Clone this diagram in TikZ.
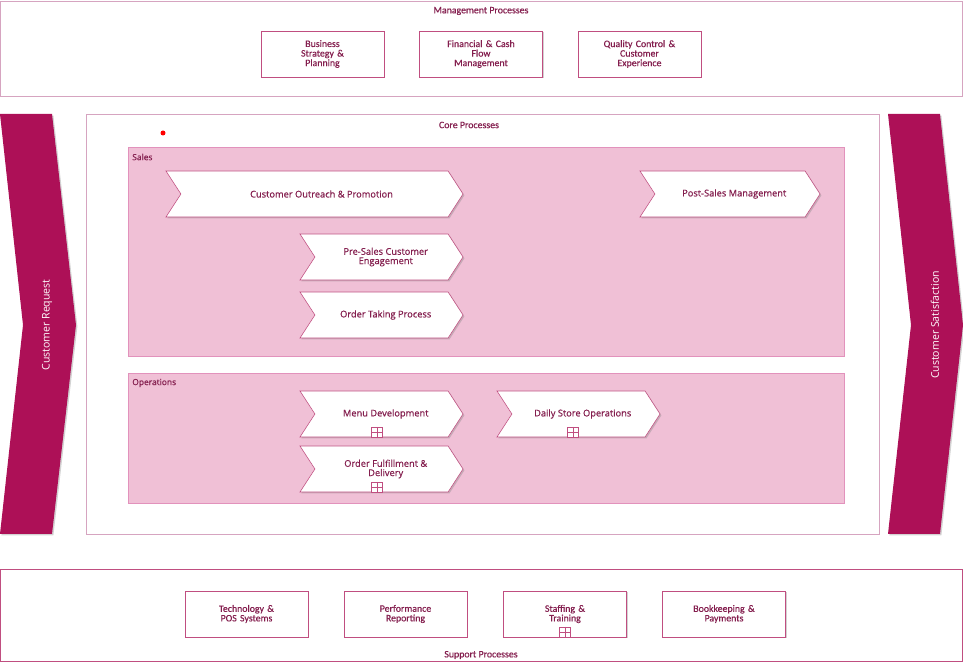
\documentclass[tikz,border=0pt]{standalone}
\usepackage{fontspec}
\setmainfont{Carlito}[FakeBold=0.4]
\newfontfamily\chevfont{Open Sans}[FakeBold=0.6]
\newfontfamily\sidefont{Open Sans}
\usepackage{tikz}
\usetikzlibrary{shapes.symbols,shadows}
\definecolor{darkmag}{RGB}{173,16,87}
\definecolor{lanefill}{RGB}{240,192,214}
\definecolor{laneline}{RGB}{226,146,188}
\definecolor{frameline}{RGB}{214,164,192}
\definecolor{boxline}{RGB}{192,78,128}
\definecolor{textmag}{RGB}{132,30,78}

\begin{document}
\begin{tikzpicture}[x=0.025cm, y=-0.025cm,
  procbox/.style={rectangle, draw=boxline, fill=white, minimum width=3.075cm, minimum height=1.15cm,
    text width=2.2cm, align=center, text=textmag, inner sep=0pt,
    font=\fontsize{7}{6.8}\selectfont,
    drop shadow={shadow xshift=1pt, shadow yshift=-1pt, opacity=0.35}},
  chev/.style={signal, signal to=east, signal from=west, signal pointer angle=114,
    draw=boxline, fill=white, minimum height=1.15cm, inner sep=0pt, align=center, text=textmag,
    font=\chevfont\fontsize{6.6}{6.6}\selectfont,
    drop shadow={shadow xshift=1pt, shadow yshift=-1pt, opacity=0.35}},
  plusbox/.style={rectangle, draw=boxline, fill=white, minimum width=0.28cm, minimum height=0.25cm, inner sep=0pt,
    path picture={\draw[boxline] (path picture bounding box.north) -- (path picture bounding box.south)
      (path picture bounding box.west) -- (path picture bounding box.east);}},
  lane/.style={rectangle, draw=laneline, fill=lanefill, anchor=north west, inner sep=0pt},
  frame/.style={rectangle, draw=frameline, fill=white, anchor=north west, inner sep=0pt},
  title/.style={text=textmag, inner sep=0pt, font=\fontsize{7}{8}\selectfont},
  lanetitle/.style={text=textmag, inner sep=0pt, anchor=west, font=\chevfont\fontsize{6}{7}\selectfont},
  sidetext/.style={text=white, rotate=90, inner sep=0pt, font=\sidefont\fontsize{7.5}{8}\selectfont}]
  \useasboundingbox (0,0) rectangle (963,662);

  % Management processes
  \node[frame, minimum width=24.05cm, minimum height=2.375cm] (mgmt) at (0,1) {};
  \node[title] (mgmttitle) at (481,11) {Management Processes};
  \node[procbox] (strategy) at (322.5,54) {Business\\Strategy \&\\Planning};
  \node[procbox] (finance) at (481,54) {Financial \& Cash\\Flow\\Management};
  \node[procbox] (quality) at (639.5,54) {Quality Control \&\\Customer\\Experience};

  % Side arrows
  \fill[darkmag, drop shadow={shadow xshift=1pt, shadow yshift=-1pt, opacity=0.35}]
    (0,114) -- (52,114) -- (76,325) -- (52,534) -- (0,534) -- (23,325) -- cycle;
  \node[sidetext] (request) at (47,325) {Customer Request};
  \fill[darkmag, drop shadow={shadow xshift=1pt, shadow yshift=-1pt, opacity=0.35}]
    (888,114) -- (940,114) -- (963,325) -- (940,534) -- (888,534) -- (911,325) -- cycle;
  \node[sidetext] (satisfaction) at (935,325) {Customer Satisfaction};

  % Core processes
  \node[frame, minimum width=19.825cm, minimum height=10.5cm] (core) at (86,114) {};
  \node[title] (coretitle) at (469,125) {Core Processes};
  \fill[red] (163,133) circle (2.5) node[inner sep=0pt] (dot) {};

  \node[lane, minimum width=17.9cm, minimum height=5.225cm] (sales) at (128,147) {};
  \node[lanetitle] (salestitle) at (132,157) {Sales};
  \node[chev, minimum width=7.425cm] (outreach) at (314.5,194) {\hspace*{10pt}Customer Outreach \& Promotion};
  \node[chev, minimum width=4.5cm] (postsales) at (730,194) {\hspace*{6pt}Post-Sales Management};
  \node[chev, minimum width=4.075cm] (presales) at (381.5,257) {\hspace*{6pt}Pre-Sales Customer\\\hspace*{6pt}Engagement};
  \node[chev, minimum width=4.075cm] (ordertaking) at (381.5,315) {\hspace*{6pt}Order Taking Process};

  \node[lane, minimum width=17.9cm, minimum height=3.25cm] (ops) at (128,373) {};
  \node[lanetitle] (opstitle) at (132,383) {Operations};
  \node[chev, minimum width=4.075cm] (menu) at (381.5,414) {\hspace*{6pt}Menu Development};
  \node[plusbox] (menuplus) at (377,432) {};
  \node[chev, minimum width=4.075cm] (fulfil) at (381.5,469) {\hspace*{6pt}Order Fulfillment \&\\\hspace*{6pt}Delivery};
  \node[plusbox] (fulfilplus) at (377,487) {};
  \node[chev, minimum width=4.075cm] (daily) at (578.5,414) {\hspace*{6pt}Daily Store Operations};
  \node[plusbox] (dailyplus) at (573,432) {};

  % Support processes
  \node[frame, draw=boxline, minimum width=24.05cm, minimum height=2.3cm] (support) at (0,569) {};
  \node[procbox] (tech) at (246.5,614) {Technology \&\\POS Systems};
  \node[procbox] (reporting) at (405.5,614) {Performance\\Reporting};
  \node[procbox] (staffing) at (565,614) {Staffing \&\\Training};
  \node[plusbox] (staffplus) at (565,632) {};
  \node[procbox] (books) at (724,614) {Bookkeeping \&\\Payments};
  \node[title] (supporttitle) at (481,655) {Support Processes};
\end{tikzpicture}
\end{document}
